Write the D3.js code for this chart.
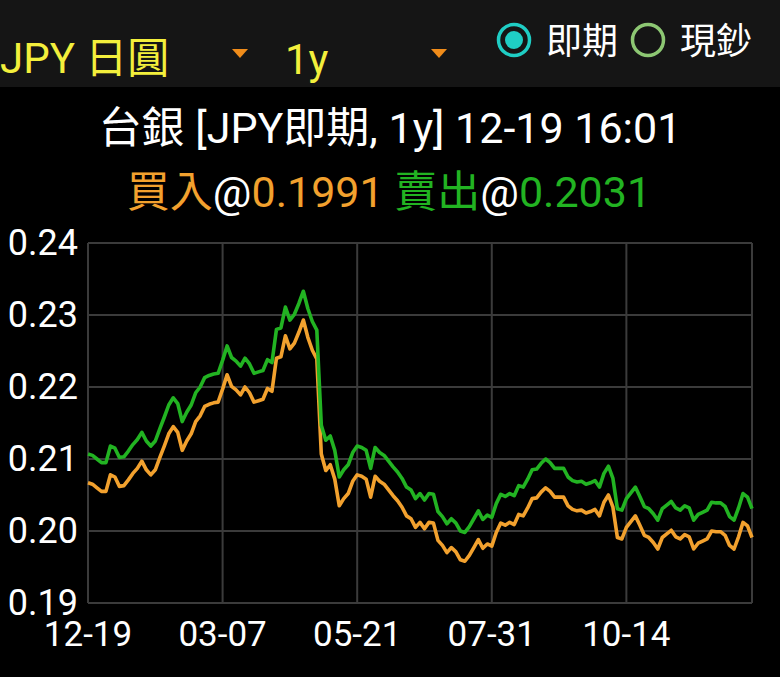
<!DOCTYPE html>
<html>
<head>
<meta charset="utf-8">
<script src="https://cdn.jsdelivr.net/npm/d3@7"></script>
<style>
  html, body { margin: 0; padding: 0; background: #000; }
  svg { display: block; }
  text { font-family: Roboto, "Noto Sans CJK TC", sans-serif; }
</style>
</head>
<body>
<div class="chart"></div>
<script>
/// Chart data
// sell (賣出) rate, one point every ~2.5 trading days, 12-19 .. 12-19
var sellRates = [
  0.2107, 0.2105, 0.2100, 0.2095, 0.2095, 0.2118, 0.2115, 0.2102, 0.2103, 0.2111,
  0.2120, 0.2127, 0.2137, 0.2125, 0.2118, 0.2125, 0.2142, 0.2158, 0.2175, 0.2185,
  0.2177, 0.2152, 0.2165, 0.2175, 0.2192, 0.2200, 0.2213, 0.2216, 0.2218, 0.2219,
  0.2237, 0.2257, 0.2241, 0.2236, 0.2229, 0.2240, 0.2232, 0.2219, 0.2221, 0.2223,
  0.2238, 0.2234, 0.2280, 0.2282, 0.2311, 0.2293, 0.2301, 0.2316, 0.2333, 0.2309,
  0.2291, 0.2279, 0.2147, 0.2126, 0.2132, 0.2112, 0.2075, 0.2085, 0.2092, 0.2109,
  0.2118, 0.2116, 0.2112, 0.2087, 0.2116, 0.2109, 0.2105, 0.2097, 0.2089, 0.2082,
  0.2073, 0.2061, 0.2057, 0.2045, 0.2052, 0.2043, 0.2052, 0.2051, 0.2027, 0.2020,
  0.2010, 0.2017, 0.2011, 0.2000, 0.1998, 0.2006, 0.2017, 0.2028, 0.2016, 0.2022,
  0.2019, 0.2038, 0.2051, 0.2048, 0.2052, 0.2049, 0.2063, 0.2061, 0.2072, 0.2085,
  0.2086, 0.2094, 0.2100, 0.2095, 0.2087, 0.2087, 0.2087, 0.2075, 0.2070, 0.2068,
  0.2069, 0.2065, 0.2067, 0.2070, 0.2061, 0.2080, 0.2090, 0.2073, 0.2031, 0.2029,
  0.2045, 0.2053, 0.2061, 0.2048, 0.2034, 0.2031, 0.2024, 0.2015, 0.2031, 0.2036,
  0.2041, 0.2032, 0.2029, 0.2035, 0.2032, 0.2015, 0.2023, 0.2026, 0.2029, 0.2040,
  0.2039, 0.2039, 0.2034, 0.2020, 0.2015, 0.2032, 0.2052, 0.2047, 0.2031
];

// buy (買入) rate, same points
var buyRates = [
  0.2067, 0.2065, 0.2060, 0.2055, 0.2055, 0.2078, 0.2075, 0.2062, 0.2063, 0.2071,
  0.2080, 0.2087, 0.2097, 0.2085, 0.2078, 0.2085, 0.2102, 0.2118, 0.2135, 0.2145,
  0.2137, 0.2112, 0.2125, 0.2135, 0.2152, 0.2160, 0.2173, 0.2176, 0.2178, 0.2179,
  0.2197, 0.2217, 0.2201, 0.2196, 0.2189, 0.2200, 0.2192, 0.2179, 0.2181, 0.2183,
  0.2198, 0.2194, 0.2240, 0.2242, 0.2271, 0.2253, 0.2261, 0.2276, 0.2293, 0.2269,
  0.2251, 0.2239, 0.2107, 0.2084, 0.2092, 0.2072, 0.2035, 0.2045, 0.2052, 0.2069,
  0.2078, 0.2076, 0.2072, 0.2047, 0.2076, 0.2069, 0.2065, 0.2057, 0.2049, 0.2042,
  0.2033, 0.2021, 0.2017, 0.2005, 0.2012, 0.2003, 0.2012, 0.2011, 0.1987, 0.1980,
  0.1970, 0.1977, 0.1971, 0.1960, 0.1958, 0.1966, 0.1977, 0.1988, 0.1976, 0.1982,
  0.1979, 0.1998, 0.2011, 0.2008, 0.2012, 0.2009, 0.2023, 0.2021, 0.2032, 0.2045,
  0.2046, 0.2054, 0.2060, 0.2055, 0.2047, 0.2047, 0.2047, 0.2035, 0.2030, 0.2028,
  0.2029, 0.2025, 0.2027, 0.2030, 0.2021, 0.2040, 0.2050, 0.2033, 0.1991, 0.1989,
  0.2005, 0.2013, 0.2021, 0.2008, 0.1994, 0.1991, 0.1984, 0.1975, 0.1991, 0.1996,
  0.2001, 0.1992, 0.1989, 0.1995, 0.1992, 0.1975, 0.1983, 0.1986, 0.1989, 0.2000,
  0.1999, 0.1999, 0.1994, 0.1980, 0.1975, 0.1992, 0.2012, 0.2007, 0.1991
];

// x tick labels and the point index they sit on
var tickLabels = ["12-19", "03-07", "05-21", "07-31", "10-14"];
var tickIndex = [0, 30, 60, 90, 120];
var yTicks = [0.19, 0.20, 0.21, 0.22, 0.23, 0.24];

/// SVG dimensions
var svgWidth = 780;
var svgHeight = 677;

var plot = { left: 88, right: 752, top: 243, bottom: 603 };

var orange = "#f2a12e";
var green = "#22b322";
var gridColor = "#3b3b3b";

var svg = d3.select(".chart")
    .append("svg")
    .attr("width", svgWidth)
    .attr("height", svgHeight);

svg.append("rect")
    .attr("width", svgWidth)
    .attr("height", svgHeight)
    .attr("fill", "#000");

/// Top bar: currency / range pickers and the radio buttons
var topBar = svg.append("g");

topBar.append("rect")
    .attr("width", svgWidth)
    .attr("height", 87)
    .attr("fill", "#151515");

topBar.append("text")
    .attr("x", 0)
    .attr("y", 73)
    .attr("fill", "#f3ef3c")
    .style("font-size", "42px")
    .text("JPY 日圓");

topBar.append("text")
    .attr("x", 285)
    .attr("y", 74)
    .attr("fill", "#f3ef3c")
    .style("font-size", "42px")
    .text("1y");

// dropdown arrows
[240, 439].forEach(function(cx) {
    topBar.append("path")
        .attr("d", `M${cx - 8},49 L${cx + 8},49 L${cx},58 Z`)
        .attr("fill", "#f08c1a");
});

// radio buttons
topBar.append("circle")
    .attr("cx", 514).attr("cy", 40).attr("r", 15.5)
    .attr("fill", "none")
    .attr("stroke", "#1fcdc4")
    .attr("stroke-width", 3.5);
topBar.append("circle")
    .attr("cx", 514).attr("cy", 40).attr("r", 9)
    .attr("fill", "#1fcdc4");
topBar.append("text")
    .attr("x", 546).attr("y", 54)
    .attr("fill", "#fff")
    .style("font-size", "36px")
    .text("即期");

topBar.append("circle")
    .attr("cx", 648).attr("cy", 40).attr("r", 15.5)
    .attr("fill", "none")
    .attr("stroke", "#8dc773")
    .attr("stroke-width", 3.5);
topBar.append("text")
    .attr("x", 680).attr("y", 54)
    .attr("fill", "#fff")
    .style("font-size", "36px")
    .text("現鈔");

/// Titles
svg.append("text")
    .attr("x", 390)
    .attr("y", 143)
    .attr("text-anchor", "middle")
    .attr("fill", "#fff")
    .style("font-size", "43px")
    .text("台銀 [JPY即期, 1y] 12-19 16:01");

var subTitle = svg.append("text")
    .attr("x", 389)
    .attr("y", 207)
    .attr("text-anchor", "middle")
    .style("font-size", "43px");
subTitle.append("tspan").attr("fill", orange).text("買入");
subTitle.append("tspan").attr("fill", "#fff").text("@");
subTitle.append("tspan").attr("fill", orange).text("0.1991 ");
subTitle.append("tspan").attr("fill", green).text("賣出");
subTitle.append("tspan").attr("fill", "#fff").text("@");
subTitle.append("tspan").attr("fill", green).text("0.2031");

/// Scales
var xScale = d3.scaleLinear()
    .domain([0, sellRates.length - 1])
    .range([plot.left, plot.right]);

var yScale = d3.scaleLinear()
    .domain([0.19, 0.24])
    .range([plot.bottom, plot.top]);

/// Grid
var grid = svg.append("g")
    .attr("stroke", gridColor)
    .attr("stroke-width", 2);

grid.selectAll(".hgrid")
    .data(yTicks)
    .enter()
    .append("line")
    .attr("x1", plot.left)
    .attr("x2", plot.right)
    .attr("y1", d => yScale(d))
    .attr("y2", d => yScale(d));

grid.selectAll(".vgrid")
    .data(tickIndex.concat([sellRates.length - 1]))
    .enter()
    .append("line")
    .attr("x1", d => xScale(d))
    .attr("x2", d => xScale(d))
    .attr("y1", plot.top)
    .attr("y2", plot.bottom);

/// Axis labels
svg.append("g")
    .selectAll("text")
    .data(yTicks)
    .enter()
    .append("text")
    .attr("x", 78)
    .attr("y", d => yScale(d))
    .attr("dy", "0.34em")
    .attr("text-anchor", "end")
    .attr("fill", "#fff")
    .style("font-size", "36px")
    .text(d => d3.format(".2f")(d));

svg.append("g")
    .selectAll("text")
    .data(tickIndex)
    .enter()
    .append("text")
    .attr("x", d => xScale(d))
    .attr("y", 646)
    .attr("text-anchor", "middle")
    .attr("fill", "#fff")
    .style("font-size", "35px")
    .text((d, i) => tickLabels[i]);

/// Lines
var line = d3.line()
    .x((d, i) => xScale(i))
    .y(d => yScale(d));

svg.append("path")
    .datum(buyRates)
    .attr("d", line)
    .attr("fill", "none")
    .attr("stroke", orange)
    .attr("stroke-width", 3.6)
    .attr("stroke-linejoin", "round");

svg.append("path")
    .datum(sellRates)
    .attr("d", line)
    .attr("fill", "none")
    .attr("stroke", green)
    .attr("stroke-width", 3.6)
    .attr("stroke-linejoin", "round");
</script>
</body>
</html>
